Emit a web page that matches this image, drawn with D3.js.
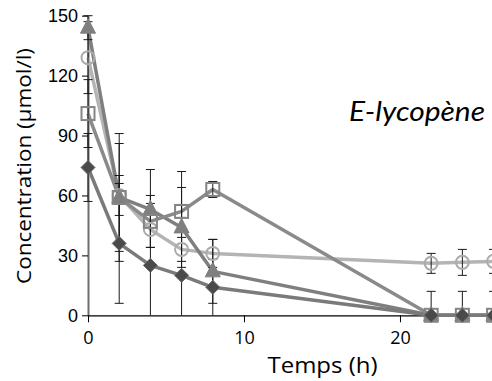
<!DOCTYPE html>
<html>
<head>
<meta charset="utf-8">
<script src="https://cdn.jsdelivr.net/npm/d3@7"></script>
<style>
html,body{margin:0;padding:0;background:#fff;}
svg{display:block;}
</style>
</head>
<body>
<svg id="chart" width="492" height="381"></svg>
<script>
// ---- data ----
const times = [0, 2, 4, 6, 8, 22, 24, 26];
const circleVals   = [129, 60, 43, 33, 31, 26, 26.5, 27];
const circleErr    = [18, 10, 9, 6, 7, 5, 6.5, 6];
const triangleVals = [144, 59, 53, 44, 22, 0, 0, 0];
const triangleErr  = [6, 32, 3, 20, 16, 0, 0, 0];
const squareVals   = [101, 59, 47, 52, 63, 0, 0, 0];
const squareErr    = [17, 27, 13, 3, 4, 0, 0, 0];
const diamondVals  = [74, 36, 25, 20, 14, 0, 0, 0];
const diamondErr   = [17, 30, 48, 52, 14, 12, 12, 12];
const xTicks = [0, 10, 20];
const yTicks = [0, 30, 60, 90, 120, 150];
const xTitle = "Temps (h)";
const yTitle = "Concentration (µmol/l)";
const label = "E-lycopène";

const series = [
  {name:"circle",   vals:circleVals,   err:circleErr,   line:"#b4b4b4", shape:"circle"},
  {name:"triangle", vals:triangleVals, err:triangleErr, line:"#7f7f7f", shape:"triangle"},
  {name:"square",   vals:squareVals,   err:squareErr,   line:"#8a8a8a", shape:"square"},
  {name:"diamond",  vals:diamondVals,  err:diamondErr,  line:"#7a7a7a", shape:"diamond"}
];

const svg = d3.select("#chart");
const x = d3.scaleLinear().domain([0, 25.9]).range([88, 492]);
const y = d3.scaleLinear().domain([0, 150]).range([315.3, 15.7]);

// axes
const yAxis = svg.append("g").attr("transform", `translate(${x(0)},0)`)
  .call(d3.axisLeft(y).tickValues(yTicks).tickSize(6).tickPadding(4).tickSizeOuter(0));
yAxis.select(".domain").attr("stroke", "#6e6e6e").attr("stroke-width", 2);
yAxis.selectAll(".tick line").attr("stroke", "#000");
yAxis.selectAll("text").attr("font-family", "'Liberation Sans', Arial, sans-serif")
  .attr("font-size", 18).attr("fill", "#000");

const xAxis = svg.append("g").attr("transform", `translate(0,${y(0)})`)
  .call(d3.axisBottom(x).tickValues(xTicks).tickFormat(d3.format("d")).tickSize(7).tickPadding(9).tickSizeOuter(0));
xAxis.select(".domain").attr("stroke", "#000").attr("stroke-width", 1.2);
xAxis.selectAll("text").attr("font-family", "'Open Sans', 'Noto Sans', sans-serif")
  .attr("font-size", 18).attr("fill", "#000");

// lines
const lineGen = d3.line().x((d,i) => x(times[i])).y(d => y(d));
series.forEach(s => {
  svg.append("path").datum(s.vals)
    .attr("d", lineGen).attr("fill", "none")
    .attr("stroke", s.line).attr("stroke-width", 3.5).attr("stroke-linejoin", "round");
});

// error bars
const eb = svg.append("g").attr("stroke", "#1a1a1a").attr("stroke-width", 1);
series.forEach(s => {
  s.vals.forEach((v, i) => {
    const e = s.err[i];
    if (!e) return;
    const cx = x(times[i]);
    const hi = v + e, lo = Math.max(0, v - e);
    eb.append("line").attr("x1", cx).attr("x2", cx).attr("y1", y(hi)).attr("y2", y(lo));
    eb.append("line").attr("x1", cx - 4.5).attr("x2", cx + 4.5).attr("y1", y(hi)).attr("y2", y(hi));
    if (v - e > 0) eb.append("line").attr("x1", cx - 4.5).attr("x2", cx + 4.5).attr("y1", y(lo)).attr("y2", y(lo));
  });
});

// markers
series.forEach(s => {
  const g = svg.append("g");
  s.vals.forEach((v, i) => {
    const cx = x(times[i]), cy = y(v);
    if (s.shape === "circle") {
      g.append("circle").attr("cx", cx).attr("cy", cy).attr("r", 6.5)
        .attr("fill", "none").attr("stroke", "#ababab").attr("stroke-width", 2);
    } else if (s.shape === "triangle") {
      g.append("path").attr("d", `M${cx},${cy-9} L${cx+7.5},${cy+5.5} L${cx-7.5},${cy+5.5} Z`)
        .attr("fill", "#7f7f7f").attr("stroke", "#7f7f7f").attr("stroke-width", 1);
    } else if (s.shape === "square") {
      g.append("rect").attr("x", cx - 6.5).attr("y", cy - 6.5).attr("width", 13).attr("height", 13)
        .attr("fill", "none").attr("stroke", "#858585").attr("stroke-width", 2);
    } else {
      g.append("path").attr("d", `M${cx},${cy-7} L${cx+7},${cy} L${cx},${cy+7} L${cx-7},${cy} Z`)
        .attr("fill", "#4a4a4a").attr("stroke", "#6a6a6a").attr("stroke-width", 1);
    }
  });
});

// titles
svg.append("text").attr("x", 322.5).attr("y", 373).attr("text-anchor", "middle")
  .attr("font-family", "'Open Sans', 'Noto Sans', sans-serif").attr("font-size", 22)
  .attr("textLength", 110).attr("lengthAdjust", "spacingAndGlyphs")
  .attr("fill", "#000").text(xTitle);
svg.append("text").attr("transform", "translate(31,166) rotate(-90)").attr("text-anchor", "middle")
  .attr("font-family", "'Open Sans', 'Noto Sans', sans-serif").attr("font-size", 19.5)
  .attr("textLength", 236).attr("lengthAdjust", "spacingAndGlyphs")
  .attr("fill", "#000").text(yTitle);
svg.append("text").attr("x", 349).attr("y", 121)
  .attr("font-family", "Lato, 'Open Sans', sans-serif").attr("font-style", "italic").attr("font-size", 27)
  .attr("textLength", 136).attr("lengthAdjust", "spacingAndGlyphs")
  .attr("fill", "#000").text(label);
</script>
</body>
</html>
